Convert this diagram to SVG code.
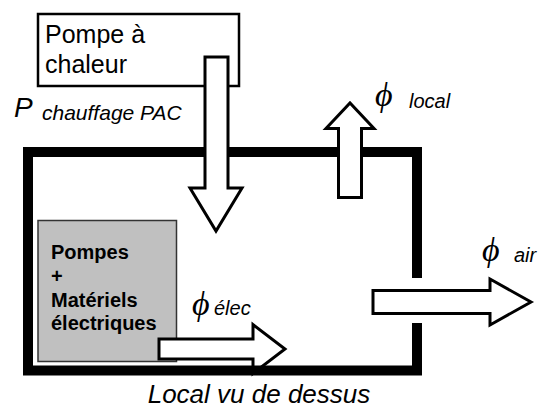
<svg xmlns="http://www.w3.org/2000/svg" width="550" height="416" viewBox="0 0 550 416">
<style>
.arrow{fill:#fff;stroke:#000;stroke-width:3;stroke-linejoin:miter}
.lbl{font-family:"Liberation Sans",Arial,sans-serif;fill:#000}
.it{font-style:italic}
.phi{font-family:"Liberation Serif","DejaVu Serif",serif;font-style:italic;font-size:34px;fill:#000}
</style>
<rect width="550" height="416" fill="#fff"/>
<g id="pac">
<rect x="38" y="14" width="201" height="72" fill="#fff" stroke="#000" stroke-width="2.5"/>
<text class="lbl" font-size="25" x="45" y="43">Pompe à</text>
<text class="lbl" font-size="25" x="45" y="73">chaleur</text>
</g>
<g id="pompes">
<rect x="38" y="220.5" width="138.5" height="141" fill="#c0c0c0" stroke="#333" stroke-width="1.5"/>
<text class="lbl" font-size="20" font-weight="bold" x="51" y="259">Pompes</text>
<text class="lbl" font-size="20" font-weight="bold" x="51" y="283">+</text>
<text class="lbl" font-size="20" font-weight="bold" x="51" y="307">Matériels</text>
<text class="lbl" font-size="20" font-weight="bold" x="51" y="330">électriques</text>
</g>
<g id="connectors">
<polygon id="arrow-elec" class="arrow" points="159,339 253,339 253,324.5 285,349 253,373.5 253,359 159,359"/>
</g>
<g id="local">
<path d="M417,278 V152 H28 V370.5 H417 V323" fill="none" stroke="#000" stroke-width="10" stroke-linejoin="miter"/>
<text class="lbl it" font-size="26" x="259" y="403" text-anchor="middle">Local vu de dessus</text>
</g>
<g id="connectors2">
<polygon id="arrow-pac" class="arrow" points="205,57 228,57 228,188 242,188 216,231 190,188 205,188"/>
<polygon id="arrow-local" class="arrow" points="338.5,197.5 361.5,197.5 361.5,128.5 374,128.5 350,103 326,128.5 338.5,128.5"/>
<polygon id="arrow-air" class="arrow" points="373,290.5 490,290.5 490,279 531,302 490,325 490,313.5 373,313.5"/>
</g>
<g id="labels">
<text class="lbl it" font-size="28" x="14" y="117">P</text>
<text class="lbl it" font-size="21" x="42" y="120">chauffage PAC</text>
<text class="phi" x="375" y="106">ϕ</text>
<text class="lbl it" font-size="20" x="409" y="108">local</text>
<text class="phi" x="482" y="261">ϕ</text>
<text class="lbl it" font-size="20" x="514" y="262">air</text>
<text class="phi" x="192" y="315">ϕ</text>
<text class="lbl it" font-size="20" x="214" y="315">élec</text>
</g>
</svg>
